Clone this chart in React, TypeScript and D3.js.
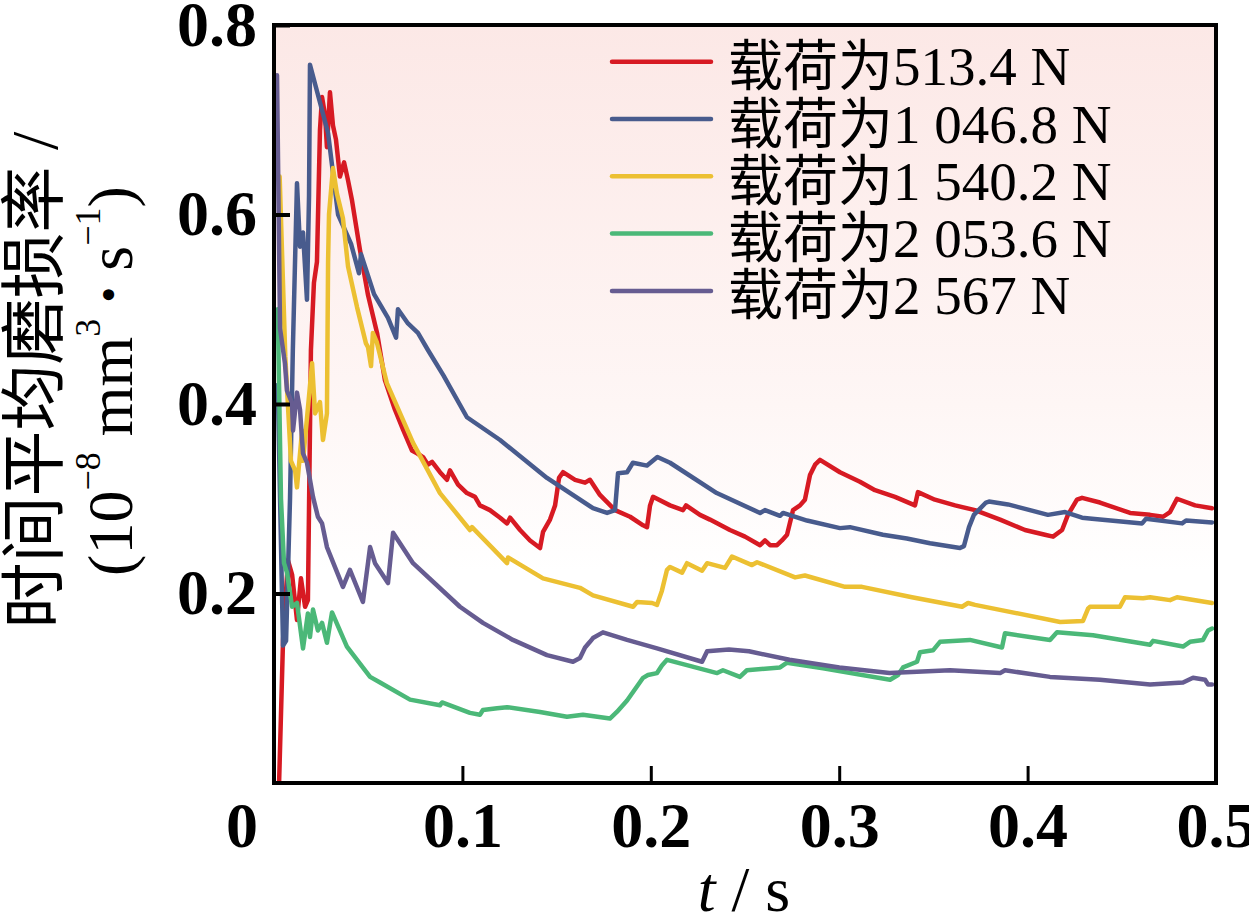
import { useEffect, useRef } from "react"
import * as d3 from "d3"

type Pt = [number, number]

const legendLabels = ["载荷为513.4 N", "载荷为1 046.8 N", "载荷为1 540.2 N", "载荷为2 053.6 N", "载荷为2 567 N"]
const lineColors = ["#d71a23", "#485b8d", "#ecc032", "#4bb878", "#665c91"]

const xTickValues = [0.1, 0.2, 0.3, 0.4, 0.5]
const xTickLabels = ["0.1", "0.2", "0.3", "0.4", "0.5"]
const yTickValues = [0.2, 0.4, 0.6, 0.8]
const yTickLabels = ["0.2", "0.4", "0.6", "0.8"]

// t (s), wear rate (1e-8 mm3/s)
const load513: Pt[] = [
    [0.0027, 0.0], [0.0048, 0.151], [0.0074, 0.235], [0.0096, 0.22], [0.0122, 0.172], [0.0143, 0.216],
    [0.0165, 0.186], [0.018, 0.193], [0.0196, 0.457], [0.0212, 0.528], [0.0228, 0.55], [0.0244, 0.689],
    [0.0255, 0.724], [0.0271, 0.705], [0.0281, 0.671], [0.0297, 0.729], [0.0313, 0.694], [0.0329, 0.679],
    [0.035, 0.64], [0.0372, 0.655], [0.0393, 0.636], [0.0414, 0.615], [0.0456, 0.563], [0.0499, 0.515],
    [0.0547, 0.475], [0.0589, 0.425], [0.0642, 0.394], [0.0685, 0.373], [0.0732, 0.351], [0.0759, 0.348],
    [0.0791, 0.344], [0.0817, 0.336], [0.0839, 0.339], [0.0881, 0.328], [0.0918, 0.32], [0.0934, 0.33],
    [0.0977, 0.315], [0.1024, 0.306], [0.1067, 0.302], [0.1093, 0.293], [0.1146, 0.288], [0.12, 0.28],
    [0.1237, 0.274], [0.1253, 0.28], [0.1306, 0.267], [0.1359, 0.256], [0.1412, 0.248], [0.1428, 0.265],
    [0.1465, 0.278], [0.1492, 0.293], [0.1513, 0.322], [0.1534, 0.328], [0.1598, 0.32], [0.1651, 0.317],
    [0.1677, 0.32], [0.173, 0.304], [0.181, 0.288], [0.189, 0.281], [0.1959, 0.272], [0.198, 0.27],
    [0.1996, 0.293], [0.2012, 0.302], [0.2102, 0.293], [0.2171, 0.288], [0.2187, 0.293], [0.2261, 0.283],
    [0.2314, 0.278], [0.242, 0.267], [0.25, 0.26], [0.258, 0.251], [0.2606, 0.256], [0.2633, 0.251],
    [0.267, 0.251], [0.2696, 0.256], [0.2723, 0.262], [0.2755, 0.288], [0.2792, 0.293], [0.2818, 0.299],
    [0.2845, 0.325], [0.2872, 0.336], [0.2898, 0.341], [0.3004, 0.328], [0.311, 0.318], [0.319, 0.309],
    [0.3296, 0.302], [0.3402, 0.293], [0.3418, 0.307], [0.3508, 0.299], [0.3615, 0.293], [0.3721, 0.288],
    [0.3854, 0.278], [0.3986, 0.267], [0.4092, 0.262], [0.4135, 0.26], [0.4183, 0.267], [0.4214, 0.283],
    [0.4262, 0.299], [0.4289, 0.301], [0.4384, 0.296], [0.4544, 0.285], [0.465, 0.283], [0.4719, 0.281],
    [0.4756, 0.286], [0.4793, 0.3], [0.4889, 0.293], [0.4979, 0.29],
]

const load1047: Pt[] = [
    [0.002, 0.42], [0.0048, 0.145], [0.0064, 0.15], [0.0085, 0.3], [0.01, 0.457], [0.0122, 0.633],
    [0.0138, 0.566], [0.0154, 0.581], [0.0175, 0.51], [0.0186, 0.62], [0.0191, 0.758], [0.0287, 0.686],
    [0.034, 0.6], [0.0409, 0.569], [0.0451, 0.538], [0.0462, 0.558], [0.0531, 0.516], [0.0605, 0.491],
    [0.0648, 0.47], [0.0658, 0.5], [0.0711, 0.485], [0.0764, 0.475], [0.0817, 0.457], [0.09, 0.43],
    [0.1024, 0.386], [0.12, 0.362], [0.1449, 0.322], [0.1693, 0.29], [0.1768, 0.285], [0.181, 0.288],
    [0.1826, 0.327], [0.1874, 0.328], [0.1905, 0.338], [0.198, 0.335], [0.2035, 0.344], [0.2102, 0.338],
    [0.235, 0.306], [0.258, 0.285], [0.2606, 0.288], [0.2686, 0.282], [0.2702, 0.285], [0.2829, 0.277],
    [0.3004, 0.269], [0.3057, 0.27], [0.3232, 0.262], [0.3359, 0.258], [0.3482, 0.253], [0.3641, 0.248],
    [0.3662, 0.25], [0.3689, 0.27], [0.3715, 0.283], [0.3779, 0.296], [0.3795, 0.297], [0.3896, 0.294],
    [0.4108, 0.283], [0.4199, 0.286], [0.4289, 0.28], [0.4342, 0.279], [0.4608, 0.274], [0.4629, 0.279],
    [0.482, 0.274], [0.4841, 0.277], [0.4979, 0.275],
]

const load1540: Pt[] = [
    [0.003, 0.64], [0.006, 0.45], [0.009, 0.34], [0.0112, 0.33], [0.0122, 0.312], [0.0149, 0.372],
    [0.0154, 0.34], [0.0202, 0.443], [0.0218, 0.39], [0.0244, 0.402], [0.026, 0.362], [0.0281, 0.39],
    [0.0287, 0.55], [0.0292, 0.6], [0.0313, 0.649], [0.0334, 0.622], [0.0366, 0.596], [0.0393, 0.545],
    [0.0441, 0.502], [0.0488, 0.464], [0.0499, 0.46], [0.0515, 0.44], [0.0525, 0.475], [0.0546, 0.465],
    [0.0599, 0.422], [0.0738, 0.359], [0.0881, 0.306], [0.104, 0.267], [0.1051, 0.27], [0.1237, 0.232],
    [0.1242, 0.238], [0.1428, 0.216], [0.1624, 0.206], [0.1693, 0.198], [0.1906, 0.186], [0.1927, 0.191],
    [0.2007, 0.19], [0.2033, 0.188], [0.2059, 0.203], [0.2086, 0.225], [0.2102, 0.228], [0.2166, 0.222],
    [0.2192, 0.232], [0.2272, 0.224], [0.2299, 0.232], [0.2394, 0.227], [0.2431, 0.239], [0.2537, 0.23],
    [0.2564, 0.233], [0.2766, 0.217], [0.2818, 0.219], [0.3031, 0.207], [0.3121, 0.207], [0.3386, 0.196],
    [0.3652, 0.186], [0.3684, 0.19], [0.3721, 0.188], [0.4173, 0.17], [0.4294, 0.171], [0.4321, 0.184],
    [0.4331, 0.186], [0.449, 0.186], [0.4517, 0.196], [0.4613, 0.195], [0.465, 0.196], [0.4756, 0.193],
    [0.4793, 0.196], [0.4979, 0.19],
]

const load2054: Pt[] = [
    [0.002, 0.5], [0.0037, 0.3], [0.0053, 0.232], [0.0069, 0.222], [0.0096, 0.186], [0.0122, 0.19],
    [0.0154, 0.142], [0.018, 0.179], [0.0191, 0.154], [0.0207, 0.183], [0.0233, 0.161], [0.0255, 0.169],
    [0.0281, 0.148], [0.0308, 0.18], [0.0387, 0.144], [0.051, 0.112], [0.0563, 0.106], [0.0722, 0.088],
    [0.0881, 0.082], [0.0892, 0.085], [0.104, 0.074], [0.1093, 0.072], [0.1109, 0.077], [0.1184, 0.079],
    [0.1237, 0.08], [0.1412, 0.075], [0.1555, 0.07], [0.164, 0.072], [0.1783, 0.068], [0.182, 0.075],
    [0.1874, 0.087], [0.1959, 0.111], [0.1985, 0.114], [0.2033, 0.116], [0.2059, 0.124], [0.2086, 0.13],
    [0.2352, 0.116], [0.2383, 0.119], [0.2473, 0.112], [0.251, 0.119], [0.2686, 0.122], [0.2723, 0.127],
    [0.2914, 0.121], [0.327, 0.109], [0.3312, 0.114], [0.3339, 0.122], [0.3413, 0.128], [0.3429, 0.138],
    [0.3498, 0.14], [0.3535, 0.149], [0.3694, 0.151], [0.3864, 0.143], [0.388, 0.158], [0.4119, 0.151],
    [0.4156, 0.159], [0.4347, 0.156], [0.465, 0.146], [0.4666, 0.15], [0.4825, 0.144], [0.4862, 0.149],
    [0.4931, 0.151], [0.4958, 0.161], [0.4979, 0.163],
]

const load2567: Pt[] = [
    [0.0016, 0.747], [0.0032, 0.48], [0.0058, 0.443], [0.0069, 0.414], [0.0096, 0.401], [0.0101, 0.372],
    [0.0122, 0.412], [0.0138, 0.394], [0.0154, 0.348], [0.0175, 0.338], [0.0207, 0.302], [0.0233, 0.281],
    [0.0255, 0.274], [0.0281, 0.249], [0.0366, 0.207], [0.0403, 0.225], [0.0472, 0.191], [0.051, 0.249],
    [0.0536, 0.232], [0.0605, 0.211], [0.0632, 0.264], [0.0738, 0.232], [0.0987, 0.186], [0.1109, 0.169],
    [0.1268, 0.151], [0.1449, 0.135], [0.1587, 0.128], [0.1624, 0.132], [0.1651, 0.143], [0.1677, 0.149],
    [0.1693, 0.153], [0.1746, 0.159], [0.1874, 0.151], [0.2033, 0.142], [0.2272, 0.128], [0.2299, 0.139],
    [0.2415, 0.141], [0.2521, 0.139], [0.2736, 0.13], [0.3001, 0.122], [0.3267, 0.116], [0.3588, 0.119],
    [0.3854, 0.116], [0.388, 0.119], [0.4119, 0.112], [0.4384, 0.109], [0.465, 0.104], [0.4825, 0.106],
    [0.4878, 0.111], [0.4942, 0.109], [0.4958, 0.104], [0.4979, 0.104],
]

const allSeries = [load513, load1047, load1540, load2054, load2567]

const SERIF = "'Liberation Serif', 'Times New Roman', 'Noto Sans CJK SC', serif"

export default function App() {
    const svgRef = useRef<SVGSVGElement | null>(null)

    useEffect(() => {
        if (!svgRef.current) return
        const width = 1249
        const height = 916
        const margin = { top: 25, right: 33, bottom: 133, left: 274 }
        const innerWidth = width - margin.left - margin.right
        const innerHeight = height - margin.top - margin.bottom

        const svg = d3.select(svgRef.current)
        svg.selectAll("*").remove()

        const defs = svg.append("defs")
        const grad = defs.append("linearGradient")
            .attr("id", "bg")
            .attr("x1", 0).attr("y1", 0).attr("x2", 0).attr("y2", 1)
        grad.append("stop").attr("offset", "0%").attr("stop-color", "#fce8e6")
        grad.append("stop").attr("offset", "50%").attr("stop-color", "#fef6f5")
        grad.append("stop").attr("offset", "72%").attr("stop-color", "#ffffff")
        defs.append("clipPath")
            .attr("id", "plot-clip")
            .append("rect")
            .attr("width", innerWidth)
            .attr("height", innerHeight)

        const g = svg.append("g").attr("transform", `translate(${margin.left},${margin.top})`)

        const x = d3.scaleLinear().domain([0, 0.5]).range([0, innerWidth])
        const y = d3.scaleLinear().domain([0, 0.8]).range([innerHeight, 0])

        g.append("rect")
            .attr("width", innerWidth)
            .attr("height", innerHeight)
            .attr("fill", "url(#bg)")

        const line = d3.line<Pt>()
            .x((d) => x(d[0]))
            .y((d) => y(d[1]))

        const lines = g.append("g").attr("clip-path", "url(#plot-clip)")
        allSeries.forEach((s, i) => {
            lines.append("path")
                .datum(s)
                .attr("fill", "none")
                .attr("stroke", lineColors[i])
                .attr("stroke-width", 4.5)
                .attr("stroke-linejoin", "round")
                .attr("stroke-linecap", "round")
                .attr("d", line)
        })

        // axes, ticks pointing inward
        const yAxis = g.append("g")
            .call(d3.axisLeft(y)
                .tickValues(yTickValues)
                .tickFormat((_, i) => yTickLabels[i])
                .tickSize(-16)
                .tickPadding(17))
        yAxis.select(".domain").remove()
        yAxis.selectAll("line").attr("stroke", "#000").attr("stroke-width", 4)

        const xAxis = g.append("g")
            .attr("transform", `translate(0,${innerHeight})`)
            .call(d3.axisBottom(x)
                .tickValues(xTickValues)
                .tickFormat((_, i) => xTickLabels[i])
                .tickSize(-17)
                .tickPadding(19))
        xAxis.select(".domain").remove()
        xAxis.selectAll("line").attr("stroke", "#000").attr("stroke-width", 3)

        for (const ax of [xAxis, yAxis]) {
            ax.attr("font-family", SERIF)
                .attr("font-size", 64)
                .attr("font-weight", "bold")
            ax.selectAll("text").attr("fill", "#000")
        }

        g.append("text")
            .attr("x", -16)
            .attr("y", innerHeight + 64)
            .attr("text-anchor", "end")
            .attr("font-family", SERIF)
            .attr("font-size", 64)
            .attr("font-weight", "bold")
            .text("0")

        g.append("rect")
            .attr("width", innerWidth)
            .attr("height", innerHeight)
            .attr("fill", "none")
            .attr("stroke", "#000")
            .attr("stroke-width", 4)

        // legend
        const legend = svg.append("g")
        legendLabels.forEach((label, i) => {
            const ly = 61.7 + i * 57.3
            legend.append("line")
                .attr("x1", 612).attr("x2", 711)
                .attr("y1", ly).attr("y2", ly)
                .attr("stroke", lineColors[i])
                .attr("stroke-width", 4.5)
                .attr("stroke-linecap", "round")
            legend.append("text")
                .attr("x", 728)
                .attr("y", ly + 23.5)
                .attr("font-family", SERIF)
                .attr("font-size", 55)
                .text(label)
        })

        // x title
        const xt = svg.append("text")
            .attr("x", 744)
            .attr("y", 911)
            .attr("text-anchor", "middle")
            .attr("font-family", SERIF)
            .attr("font-size", 64)
        xt.append("tspan").attr("font-style", "italic").text("t")
        xt.append("tspan").text(" / s")

        // y title, two rotated lines
        svg.append("text")
            .attr("transform", "translate(57,380) rotate(-90)")
            .attr("text-anchor", "middle")
            .attr("font-family", SERIF)
            .attr("font-size", 66)
            .text("时间平均磨损率 /")

        const yt = svg.append("text")
            .attr("transform", "translate(132,381) rotate(-90)")
            .attr("text-anchor", "middle")
            .attr("font-family", SERIF)
            .attr("font-size", 64)
        yt.append("tspan").text("(10")
        yt.append("tspan").attr("font-size", 36).attr("dy", -32).text("−8")
        yt.append("tspan").attr("dy", 32).text(" mm")
        yt.append("tspan").attr("font-size", 36).attr("dy", -32).text("3")
        yt.append("tspan").attr("dy", 32).text(" ")
        yt.append("tspan").attr("font-size", 46).attr("dy", -8).text("•")
        yt.append("tspan").attr("dy", 8).text(" s")
        yt.append("tspan").attr("font-size", 36).attr("dy", -32).text("−1")
        yt.append("tspan").attr("dy", 32).text(")")
    }, [])

    return (
        <svg
            ref={svgRef}
            width={1249}
            height={916}
            style={{ position: "absolute", left: 0, top: 0, background: "#fff" }}
        />
    )
}
